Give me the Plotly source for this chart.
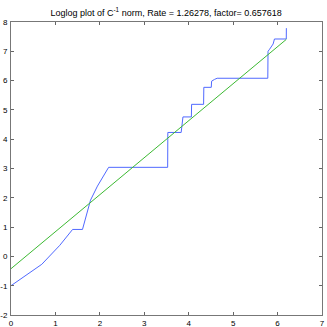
import plotly.graph_objects as go

# blue: log(norm) vs log(n)
blue_x = [0.0, 0.693, 1.099, 1.386, 1.609, 1.79, 1.946, 2.079, 2.197, 3.526, 3.53,
          3.83, 3.84, 3.87, 4.06, 4.065, 4.335, 4.34, 4.508, 4.515, 4.58, 4.64,
          5.78, 5.785, 5.82, 5.86, 5.9, 5.93, 6.196, 6.198]
blue_y = [-1.0, -0.27, 0.38, 0.92, 0.92, 1.92, 2.4, 2.72, 3.04, 3.04, 4.23,
          4.23, 4.45, 4.76, 4.76, 5.19, 5.19, 5.77, 5.77, 5.98, 6.04, 6.08,
          6.08, 7.0, 7.07, 7.16, 7.25, 7.42, 7.42, 7.79]

# green: fitted line endpoints
green_x = [0.0, 6.196]
green_y = [-0.419, 7.405]

x_ticks = [0, 1, 2, 3, 4, 5, 6, 7]
y_ticks = [-2, -1, 0, 1, 2, 3, 4, 5, 6, 7, 8]

title_text = "Loglog plot of C<sup>-1</sup> norm, Rate = 1.26278, factor= 0.657618"

font = dict(family="Liberation Sans Narrow, Liberation Sans, Arial, sans-serif", size=8, color="black")

fig = go.Figure()
fig.add_trace(go.Scatter(x=blue_x, y=blue_y, mode="lines",
                         line=dict(color="rgb(80,105,255)", width=1)))
fig.add_trace(go.Scatter(x=green_x, y=green_y, mode="lines",
                         line=dict(color="rgb(60,185,50)", width=1)))

axis_common = dict(showgrid=False, zeroline=False, ticks="inside", ticklen=3,
                   tickwidth=1, tickcolor="#666", linecolor="#777", linewidth=1,
                   mirror="ticks", showline=True, tickfont=font, automargin=False)

fig.update_layout(
    width=327, height=327,
    margin=dict(l=11, r=5, t=22, b=12),
    paper_bgcolor="white", plot_bgcolor="white",
    showlegend=False,
    title=dict(text=title_text, x=0.508, xanchor="center", y=0.962, yanchor="middle",
               font=dict(family="Liberation Sans Narrow, Liberation Sans, Arial, sans-serif", size=9, color="black")),
    xaxis=dict(range=[0, 7], tickvals=x_ticks, ticktext=[str(v) for v in x_ticks],
               ticklabelstandoff=0, **axis_common),
    yaxis=dict(range=[-2, 8], tickvals=y_ticks, ticktext=[str(v) for v in y_ticks],
               ticklabelstandoff=1, **axis_common),
)

fig.write_html("out.html", config={"displayModeBar": False},
               post_script="document.body.style.margin='0';document.body.style.overflow='hidden';")
